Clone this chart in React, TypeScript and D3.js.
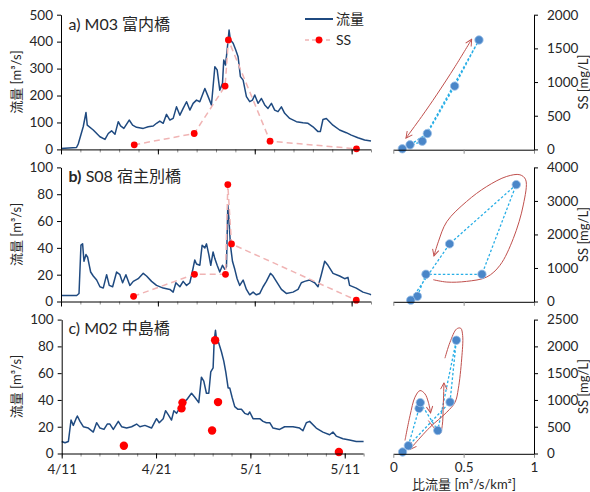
import React, { useEffect, useRef } from "react";
import * as d3 from "d3";

// ---------- data (days since 4/11) ----------
const flowDaysA = [0,1.6,1.78,2.3,2.58,2.71,3.33,4.02,4.54,4.88,5.22,5.57,5.91,6.15,6.49,7.04,7.39,7.8,8.49,9.0,9.52,9.86,10.2,10.55,10.89,11.24,11.58,11.92,12.27,12.61,12.96,13.3,13.64,13.99,14.33,14.85,15.19,15.53,15.88,16.12,16.39,16.67,16.8,16.98,17.15,17.35,17.49,17.77,18.04,18.28,18.52,18.8,19.14,19.48,19.76,20.0,20.34,20.69,21.03,21.37,21.72,22.06,22.4,22.75,23.09,23.61,24.3,24.98,25.5,26.01,26.53,26.77,27.04,27.39,28.07,28.76,29.45,29.97,30.65,31.34,32.0];
const flowA = [3,7,20,85,137,90,72,47,37,59,69,56,103,87,78,109,90,82,78,84,87,97,105,97,130,109,115,158,127,152,177,146,171,183,177,226,196,165,307,295,220,245,332,313,369,443,406,394,369,344,270,257,196,177,183,202,171,189,165,152,171,146,140,158,134,115,103,99,97,84,66,66,111,115,90,72,62,53,43,35,31];

const flowDaysB = [0,1.62,1.86,2.06,2.23,2.37,2.58,2.75,2.92,3.06,3.33,3.68,4.02,4.36,4.71,4.98,5.33,5.74,6.08,6.36,6.7,7.11,7.46,7.97,8.49,8.83,9.35,9.86,10.55,11.24,11.58,11.86,12.27,12.61,12.96,13.3,13.64,13.81,13.99,14.33,14.57,14.85,15.02,15.26,15.46,15.7,15.88,16.12,16.39,16.67,16.91,17.08,17.22,17.35,17.49,17.7,17.94,18.18,18.45,18.8,19.14,19.48,19.83,20.17,20.52,20.86,21.2,21.62,21.89,22.23,22.75,23.26,23.95,24.47,24.81,25.15,25.67,26.19,26.53,26.87,27.22,27.56,28.08,28.76,29.28,29.62,29.79,30.48,31.17,31.86,32.0];
const flowB = [4.5,4.5,6,42,43,30,35,33,27,22,19,16,11,10,20,12,11,22,20,14,20,12,15,17,21,19,15,12,10,9,7,14,11,15,12,14,25,31,28,27,42,40,43,35,27,37,32,27,22,27,24,26,72,60,42,30,24,17,12,16,9,5,7,5,6,11,15,21,19,15,9,6,7,9,14,15,16,14,11,20,30,27,21,19,17,18,12,10,7,5.5,5];

const flowDaysC = [0,0.35,0.71,0.99,1.23,1.52,1.66,1.94,2.29,2.82,3.35,3.7,4.06,4.48,4.83,5.11,5.47,6.0,6.35,6.88,7.41,7.94,8.29,8.82,9.52,10.05,10.34,10.76,11.01,11.29,11.64,11.89,12.17,12.52,12.87,13.23,13.76,14.11,14.53,14.81,15.06,15.34,15.59,15.8,16.05,16.16,16.3,16.4,16.58,16.93,17.18,17.39,17.64,17.81,18.06,18.34,18.69,19.05,19.4,19.75,19.93,20.28,20.63,20.99,21.34,21.69,22.05,22.4,23.1,23.63,24.51,25.22,25.57,25.93,26.28,26.98,27.69,28.4,28.75,29.1,29.81,30.51,31.22,32.0];
const flowC = [9,8,9,25,21,26,28,24,20,19,16,23,19,18,22,22,18,24,20,19,20,22,20,21,19,26,23,26,32,29,25,32,30,34,38,40,45,42,38,57,54,45,45,61,64,84,92,86,84,76,69,61,49,49,42,35,33,33,30,29,31,26,26,26,24,23,23,19,18,20,20,19,17,23,24,19,16,14,16,13,11,10,9,9];

// SS samples: day, SS [mg/L], specific discharge [m3/s/km2]
const ssDaysA = [7.56, 13.75, 16.94, 17.28, 21.58, 30.5];
const ssA = [68, 236, 940, 1625, 122, 9];
const qA = [0.119, 0.242, 0.436, 0.609, 0.206, 0.064];

const ssDaysB = [7.49, 13.78, 16.98, 17.22, 17.6, 30.48];
const ssB = [155, 812, 812, 3487, 1718, 40];
const qB = [0.171, 0.232, 0.63, 0.874, 0.4, 0.124];

const ssDaysC = [6.59, 12.7, 12.8, 15.94, 16.26, 16.57, 29.38];
const ssC = [145, 842, 950, 430, 2114, 960, 28];
const qC = [0.107, 0.183, 0.192, 0.316, 0.448, 0.403, 0.066];

// hysteresis arrows (q, SS)
const arrowA1 = [[0.09,168],[0.202,489],[0.308,810],[0.439,1230],[0.557,1635]];
const arrowB1 = [[0.284,650],[0.38,580],[0.52,600],[0.664,730],[0.758,1080],[0.853,1880],[0.924,2880],[0.941,3630],[0.9,3780],[0.806,3730],[0.664,3430],[0.52,2980],[0.38,2380],[0.32,1780],[0.289,1360]];
const arrowC1 = [[0.083,243],[0.119,709],[0.154,1051],[0.19,1175],[0.225,1113],[0.249,958],[0.265,759]];
const arrowC2 = [[0.249,616],[0.296,460],[0.332,367],[0.348,522],[0.355,896],[0.36,1319]];
const arrowC3 = [[0.367,1779],[0.403,2077],[0.45,2326],[0.479,2339],[0.493,2202],[0.486,1766],[0.462,1207],[0.439,958],[0.38,771],[0.261,491],[0.142,149],[0.119,75]];

const xTickDays = [0, 10, 20, 30];
const xTickLabels = ["4/11", "4/21", "5/1", "5/11"];
const xMinorDays = d3.range(0, 33, 2);
const qTicks = [0, 0.5, 1];
const qTickLabels = ["0", "0.5", "1"];

const flowTicksA = [0, 100, 200, 300, 400, 500];
const flowTicksBC = [0, 20, 40, 60, 80, 100];
const ssTicksA = [0, 500, 1000, 1500, 2000];
const ssTicksB = [0, 1000, 2000, 3000, 4000];
const ssTicksC = [0, 500, 1000, 1500, 2000, 2500];

const FONT = "Lato, 'Noto Sans CJK JP', sans-serif";
const LINE = "#1f4a80";
const RED = "#c0504d";
const PINK = "#f0b4b4";
const DOT_RED = "#ff0000";
const CYAN = "#27aee6";
const PT = "#4a86c8";
const TXT = "#262626";

type Panel = {
  label: string; station: string; name: string;
  days: number[]; flow: number[];
  ssDays: number[]; ss: number[]; q: number[];
  flowMax: number; flowTicks: number[];
  ssMax: number; ssTicks: number[];
  x0: number; x1: number; yt: number; yb: number;
  titleY: number; dashed: boolean; dotR: number;
  arrows: { pts: number[][]; both: boolean }[];
  showX: boolean; legend: boolean; boldLabel: boolean;
};

const panels: Panel[] = [
  { label: "a)", station: " M03 ", name: "富内橋", days: flowDaysA, flow: flowA, ssDays: ssDaysA, ss: ssA, q: qA,
    flowMax: 500, flowTicks: flowTicksA, ssMax: 2000, ssTicks: ssTicksA,
    x0: 61, x1: 371, yt: 14.7, yb: 149.4, titleY: 29.5, dashed: true, dotR: 3.4,
    arrows: [{ pts: arrowA1, both: true }], showX: false, legend: true, boldLabel: false },
  { label: "b)", station: " S08 ", name: "宿主別橋", days: flowDaysB, flow: flowB, ssDays: ssDaysB, ss: ssB, q: qB,
    flowMax: 100, flowTicks: flowTicksBC, ssMax: 4000, ssTicks: ssTicksB,
    x0: 61, x1: 371, yt: 167.4, yb: 301.5, titleY: 181.5, dashed: true, dotR: 3.4,
    arrows: [{ pts: arrowB1, both: false }], showX: false, legend: false, boldLabel: true },
  { label: "c)", station: " M02 ", name: "中島橋", days: flowDaysC, flow: flowC, ssDays: ssDaysC, ss: ssC, q: qC,
    flowMax: 100, flowTicks: flowTicksBC, ssMax: 2500, ssTicks: ssTicksC,
    x0: 61.7, x1: 363.6, yt: 319.6, yb: 453.5, titleY: 333.5, dashed: false, dotR: 4.2,
    arrows: [{ pts: arrowC1, both: false }, { pts: arrowC2, both: false }, { pts: arrowC3, both: false }],
    showX: true, legend: false, boldLabel: false },
];

const QX0 = 393.3, QX1 = 534;

function styleAxis(g: any, tickColor: string) {
  g.select(".domain").attr("stroke", "#000").attr("stroke-width", 1);
  g.selectAll(".tick line").attr("stroke", tickColor).attr("stroke-width", 1);
  g.selectAll(".tick text").attr("fill", TXT).attr("font-size", 13.5).attr("font-family", FONT);
}

function drawPanel(svg: any, p: Panel) {
  const x = d3.scaleLinear().domain([0, 32]).range([p.x0, p.x1]);
  const y = d3.scaleLinear().domain([0, p.flowMax]).range([p.yb, p.yt]);
  const ys = d3.scaleLinear().domain([0, p.ssMax]).range([p.yb, p.yt]);
  const qx = d3.scaleLinear().domain([0, 1]).range([QX0, QX1]);

  // ---- left time series ----
  const gl = svg.append("g");
  gl.append("path")
    .datum(p.days.map((d, i) => [d, p.flow[i]]))
    .attr("fill", "none").attr("stroke", LINE).attr("stroke-width", 1.5)
    .attr("stroke-linejoin", "round")
    .attr("d", d3.line<number[]>().x(d => x(d[0])).y(d => y(d[1])));

  const ssPts = p.ssDays.map((d, i) => [d, p.ss[i]]);
  if (p.dashed) {
    gl.append("path").datum(ssPts)
      .attr("fill", "none").attr("stroke", PINK).attr("stroke-width", 1.5).attr("stroke-dasharray", "6,4")
      .attr("d", d3.line<number[]>().x(d => x(d[0])).y(d => ys(d[1])));
  }
  gl.selectAll("circle.ss").data(ssPts).enter().append("circle")
    .attr("cx", (d: number[]) => x(d[0])).attr("cy", (d: number[]) => ys(d[1]))
    .attr("r", p.dotR).attr("fill", DOT_RED);

  // axes
  const ay = gl.append("g").attr("transform", `translate(${p.x0},0)`)
    .call(d3.axisLeft(y).tickValues(p.flowTicks).tickSize(4).tickSizeOuter(0).tickPadding(4).tickFormat(d3.format("d")));
  styleAxis(ay, "#000");

  const axMinor = gl.append("g").attr("transform", `translate(0,${p.yb})`)
    .call(d3.axisBottom(x).tickValues(xMinorDays).tickSize(3).tickSizeOuter(0).tickFormat(() => ""));
  styleAxis(axMinor, "#8c8c8c");
  axMinor.select(".domain").remove();
  const axMajor = gl.append("g").attr("transform", `translate(0,${p.yb})`)
    .call(d3.axisBottom(x).tickValues(xTickDays).tickSize(5).tickSizeOuter(0).tickPadding(6)
      .tickFormat((d: any, i: number) => (p.showX ? xTickLabels[i] : "")));
  styleAxis(axMajor, "#000");
  axMajor.select(".domain").attr("d", `M${p.x0},0.5H${p.x1}`);

  // title
  const t = gl.append("text").attr("x", 68.5).attr("y", p.titleY).attr("font-family", FONT)
    .attr("font-size", 16).attr("fill", TXT);
  t.append("tspan").attr("font-weight", p.boldLabel ? "bold" : "normal").text(p.label);
  t.append("tspan").text(p.station);
  t.append("tspan").text(p.name);

  // left axis title
  const cy = (p.yt + p.yb) / 2;
  gl.append("text").attr("transform", `translate(16,${cy}) rotate(-90)`)
    .attr("text-anchor", "middle").attr("dominant-baseline", "central")
    .attr("font-family", FONT).attr("font-size", 13).attr("fill", TXT)
    .text("流量 [m³/s]");

  // ---- right scatter ----
  const gr = svg.append("g");
  const qPts = p.q.map((q, i) => [q, p.ss[i]]);
  gr.append("path").datum(qPts)
    .attr("fill", "none").attr("stroke", CYAN).attr("stroke-width", 1.3).attr("stroke-dasharray", "2.5,2")
    .attr("d", d3.line<number[]>().x(d => qx(d[0])).y(d => ys(d[1])));

  p.arrows.forEach(a => {
    gr.append("path").datum(a.pts)
      .attr("fill", "none").attr("stroke", RED).attr("stroke-width", 1)
      .attr("marker-end", "url(#arr)")
      .attr("marker-start", a.both ? "url(#arr)" : null)
      .attr("d", d3.line<number[]>().curve(d3.curveCatmullRom.alpha(0.5)).x(d => qx(d[0])).y(d => ys(d[1])));
  });

  gr.selectAll("circle.pt").data(qPts).enter().append("circle")
    .attr("cx", (d: number[]) => qx(d[0])).attr("cy", (d: number[]) => ys(d[1]))
    .attr("r", 4.2).attr("fill", PT).attr("stroke", "#9cc0e8").attr("stroke-width", 0.8);

  const aqx = gr.append("g").attr("transform", `translate(0,${p.yb + 0.3})`)
    .call(d3.axisBottom(qx).tickValues(qTicks).tickSize(4).tickSizeOuter(0).tickPadding(5)
      .tickFormat((d: any, i: number) => (p.showX ? qTickLabels[i] : "")));
  styleAxis(aqx, "#8c8c8c");
  const ayr = gr.append("g").attr("transform", `translate(${QX1},0)`)
    .call(d3.axisRight(ys).tickValues(p.ssTicks).tickSize(4).tickSizeOuter(0).tickPadding(9).tickFormat(d3.format("d")));
  styleAxis(ayr, "#000");

  gr.append("text").attr("transform", `translate(583,${cy}) rotate(-90)`)
    .attr("text-anchor", "middle").attr("dominant-baseline", "central")
    .attr("font-family", FONT).attr("font-size", 13).attr("fill", TXT)
    .text("SS [mg/L]");

  if (p.showX) {
    gr.append("text").attr("x", 464).attr("y", 488.5).attr("text-anchor", "middle")
      .attr("font-family", FONT).attr("font-size", 13).attr("fill", TXT)
      .text("比流量 [m³/s/km²]");
  }

  if (p.legend) {
    const lg = svg.append("g");
    lg.append("line").attr("x1", 305).attr("x2", 333).attr("y1", 19).attr("y2", 19)
      .attr("stroke", LINE).attr("stroke-width", 2);
    lg.append("text").attr("x", 336).attr("y", 24).attr("font-family", FONT).attr("font-size", 14)
      .attr("fill", TXT).text("流量");
    lg.append("line").attr("x1", 305).attr("x2", 333).attr("y1", 40).attr("y2", 40)
      .attr("stroke", PINK).attr("stroke-width", 1.5).attr("stroke-dasharray", "4,3");
    lg.append("circle").attr("cx", 319).attr("cy", 40).attr("r", 3.4).attr("fill", DOT_RED);
    lg.append("text").attr("x", 336).attr("y", 45).attr("font-family", FONT).attr("font-size", 14)
      .attr("fill", TXT).text("SS");
  }
}

export default function App() {
  const ref = useRef<SVGSVGElement>(null);
  useEffect(() => {
    const svg = d3.select(ref.current);
    svg.selectAll("*").remove();
    svg.append("rect").attr("width", 590).attr("height", 492).attr("fill", "#fff");
    const defs = svg.append("defs");
    defs.append("marker").attr("id", "arr").attr("viewBox", "0 0 10 10")
      .attr("refX", 9).attr("refY", 5).attr("markerWidth", 8).attr("markerHeight", 8)
      .attr("markerUnits", "userSpaceOnUse").attr("orient", "auto-start-reverse")
      .append("path").attr("d", "M1,1 L9,5 L1,9").attr("fill", "none")
      .attr("stroke", RED).attr("stroke-width", 1.2);
    panels.forEach(p => drawPanel(svg, p));
  }, []);
  return (
    <svg ref={ref} width={590} height={492}
      style={{ position: "absolute", left: 0, top: 0, display: "block", background: "#fff" }} />
  );
}
